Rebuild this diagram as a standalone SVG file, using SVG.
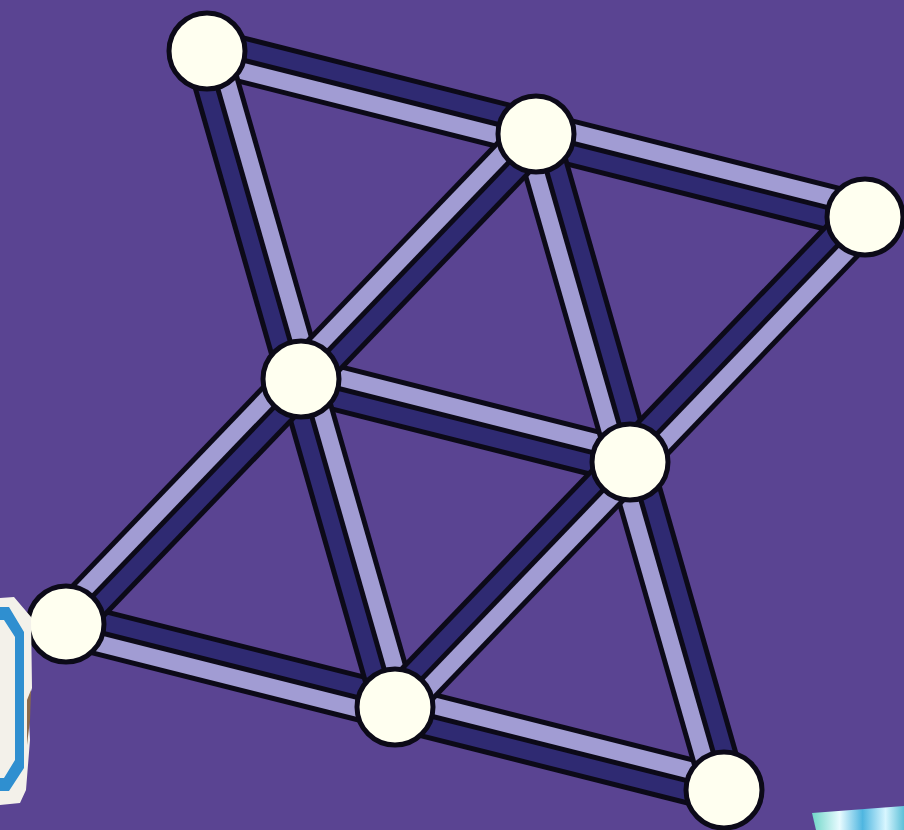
<svg xmlns="http://www.w3.org/2000/svg" xmlns:xlink="http://www.w3.org/1999/xlink" width="904" height="830" viewBox="0 0 904 830">
  <defs>
    <style>
      .outline { fill: #0c0a18; }
      .dark { fill: #2f2a72; }
      .light { fill: #a19cd3; }
      .node { fill: #fffff0; stroke: #0c0a18; stroke-width: 5; }
    </style>
    <g id="barN">
      <rect class="outline" x="0" y="-24" width="340" height="48"/>
      <rect class="dark" x="0" y="-19" width="340" height="16.5"/>
      <rect class="light" x="0" y="2.5" width="340" height="16.5"/>
    </g>
    <g id="barP">
      <rect class="outline" x="0" y="-24" width="340" height="48"/>
      <rect class="light" x="0" y="-19" width="340" height="16.5"/>
      <rect class="dark" x="0" y="2.5" width="340" height="16.5"/>
    </g>
    <linearGradient id="holo" x1="0" y1="0" x2="1" y2="0">
      <stop offset="0" stop-color="#6fd6c8"/>
      <stop offset="0.3" stop-color="#e8fbff"/>
      <stop offset="0.55" stop-color="#4fb6e0"/>
      <stop offset="0.8" stop-color="#d8f6ff"/>
      <stop offset="1" stop-color="#5cc0d8"/>
    </linearGradient>
  </defs>

  <rect x="0" y="0" width="904" height="830" fill="#5a4492"/>

  <g id="connectors">
    <use xlink:href="#barN" transform="translate(207,51) rotate(14.16)"/>
    <use xlink:href="#barP" transform="translate(536,134) rotate(14.16)"/>
    <use xlink:href="#barP" transform="translate(301,379) rotate(14.16)"/>
    <use xlink:href="#barN" transform="translate(66,624) rotate(14.16)"/>
    <use xlink:href="#barP" transform="translate(395,707) rotate(14.16)"/>
    <use xlink:href="#barP" transform="translate(207,51) rotate(74)"/>
    <use xlink:href="#barN" transform="translate(536,134) rotate(74)"/>
    <use xlink:href="#barP" transform="translate(301,379) rotate(74)"/>
    <use xlink:href="#barN" transform="translate(630,462) rotate(74)"/>
    <use xlink:href="#barN" transform="translate(536,134) rotate(133.81)"/>
    <use xlink:href="#barP" transform="translate(865,217) rotate(133.81)"/>
    <use xlink:href="#barN" transform="translate(301,379) rotate(133.81)"/>
    <use xlink:href="#barP" transform="translate(630,462) rotate(133.81)"/>
  </g>

  <g id="nodeA"><circle class="node" cx="207" cy="51" r="38"/></g>
  <g id="nodeB"><circle class="node" cx="536" cy="134" r="38"/></g>
  <g id="nodeC"><circle class="node" cx="865" cy="217" r="38"/></g>
  <g id="nodeD"><circle class="node" cx="301" cy="379" r="38"/></g>
  <g id="nodeE"><circle class="node" cx="630" cy="462" r="38"/></g>
  <g id="nodeF"><circle class="node" cx="66" cy="624" r="38"/></g>
  <g id="nodeG"><circle class="node" cx="395" cy="707" r="38"/></g>
  <g id="nodeH"><circle class="node" cx="724" cy="790" r="38"/></g>

  <g id="sticker-left">
    <polygon points="0,598 14,597 31,617 32,688 28,702 30,740 26,790 20,803 0,805" fill="#f3f1ea"/>
    <path d="M0,607 L9,607 L24,632 L24,768 L9,791 L0,791 Z M0,620 L4,620 L15,637 L15,760 L4,778 L0,778 Z" fill="#2f8fd0" fill-rule="evenodd"/>
    <path d="M27,700 L31,690 L30,720 L27,745 Z" fill="#8a6a4a"/>
  </g>
  <g id="sticker-right">
    <polygon points="812,813 904,806 904,830 816,830" fill="url(#holo)"/>
  </g>
</svg>
